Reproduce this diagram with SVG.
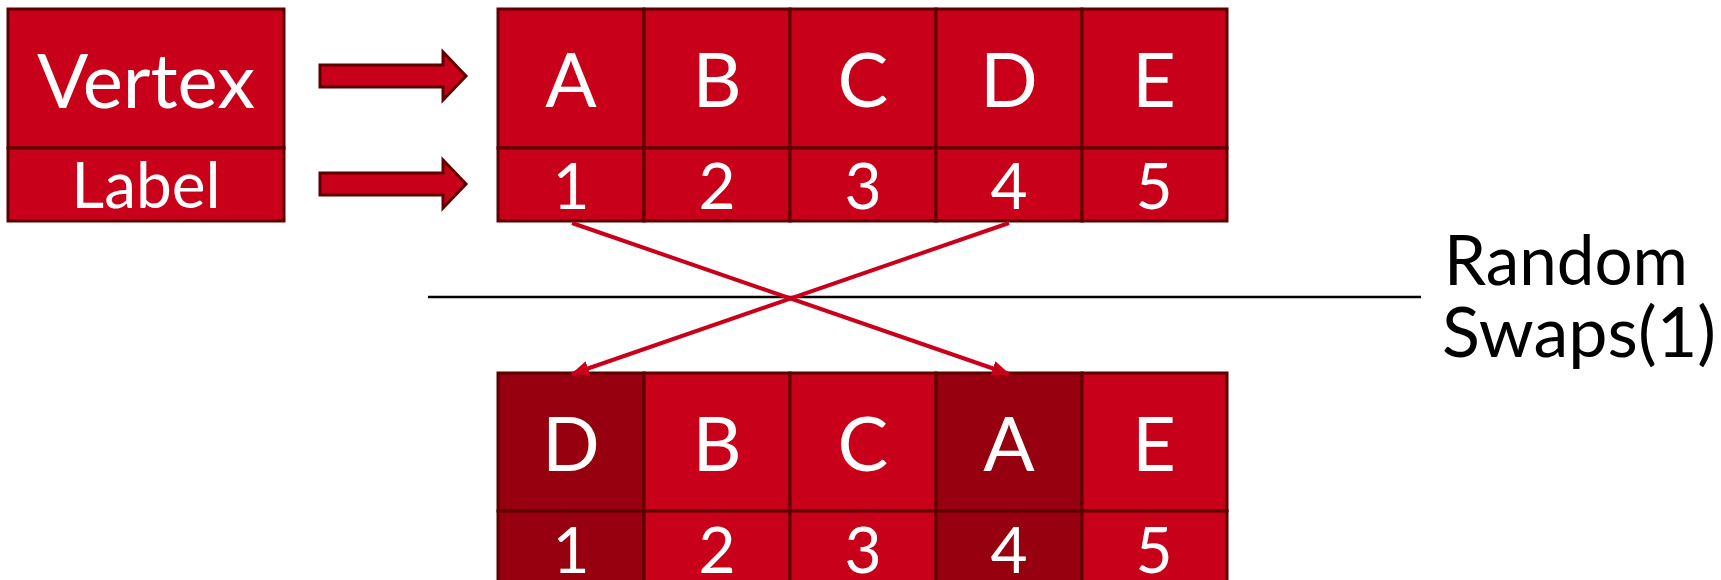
<svg xmlns="http://www.w3.org/2000/svg" width="1721" height="580" viewBox="0 0 1721 580">
<style>
.cell{fill:#C90019;stroke:#5E0000;stroke-width:3}
.dark{fill:#96000F}
.blk{fill:#C90019;stroke:#5E0000;stroke-width:3;stroke-linejoin:miter}
.big{font-family:Lato,"Liberation Sans",sans-serif;font-size:76px;fill:#fff;text-anchor:middle}
.sm{font-family:Lato,"Liberation Sans",sans-serif;font-size:64px;fill:#fff;text-anchor:middle}
.lbl{font-family:Lato,"Liberation Sans",sans-serif;font-size:70px;fill:#000}
.conn{stroke:#C90019;stroke-width:4;fill:none;marker-end:url(#ah)}
</style>
<defs>
<marker id="ah" markerWidth="18" markerHeight="15" refX="17" refY="7.5" orient="auto" markerUnits="userSpaceOnUse" viewBox="0 0 18 15">
<path d="M0,0 L18,7.5 L0,15 Z" fill="#C90019"/>
</marker>
</defs>
<rect width="1721" height="580" fill="#fff"/>
<g id="legend">
<rect class="cell" x="8" y="9" width="276" height="139"/>
<rect class="cell" x="8" y="148" width="276" height="73"/>
<text class="big" x="146" y="108">Vertex</text>
<text class="sm" x="146" y="208">Label</text>
</g>
<g id="arrow-vertex"><polygon class="blk" points="320,65 443,65 443,52 466,76 443,100 443,87 320,87"/></g>
<g id="arrow-label"><polygon class="blk" points="320,173 443,173 443,160 466,184 443,208 443,195 320,195"/></g>
<g id="top-grid">
<g id="top-1"><rect class="cell" x="498" y="9" width="146" height="139"/><rect class="cell" x="498" y="148" width="146" height="73"/><text class="big" x="571" y="107">A</text><text class="sm" x="571" y="209">1</text></g>
<g id="top-2"><rect class="cell" x="644" y="9" width="146" height="139"/><rect class="cell" x="644" y="148" width="146" height="73"/><text class="big" x="717" y="107">B</text><text class="sm" x="717" y="209">2</text></g>
<g id="top-3"><rect class="cell" x="790" y="9" width="146" height="139"/><rect class="cell" x="790" y="148" width="146" height="73"/><text class="big" x="863" y="107">C</text><text class="sm" x="863" y="209">3</text></g>
<g id="top-4"><rect class="cell" x="936" y="9" width="146" height="139"/><rect class="cell" x="936" y="148" width="146" height="73"/><text class="big" x="1009" y="107">D</text><text class="sm" x="1009" y="209">4</text></g>
<g id="top-5"><rect class="cell" x="1082" y="9" width="145" height="139"/><rect class="cell" x="1082" y="148" width="145" height="73"/><text class="big" x="1154" y="107">E</text><text class="sm" x="1154" y="209">5</text></g>
</g>
<g id="bottom-grid">
<g id="bot-1"><rect class="cell dark" x="498" y="373" width="146" height="138"/><rect class="cell dark" x="498" y="511" width="146" height="80"/><text class="big" x="571" y="471">D</text><text class="sm" x="571" y="573">1</text></g>
<g id="bot-2"><rect class="cell" x="644" y="373" width="146" height="138"/><rect class="cell" x="644" y="511" width="146" height="80"/><text class="big" x="717" y="471">B</text><text class="sm" x="717" y="573">2</text></g>
<g id="bot-3"><rect class="cell" x="790" y="373" width="146" height="138"/><rect class="cell" x="790" y="511" width="146" height="80"/><text class="big" x="863" y="471">C</text><text class="sm" x="863" y="573">3</text></g>
<g id="bot-4"><rect class="cell dark" x="936" y="373" width="146" height="138"/><rect class="cell dark" x="936" y="511" width="146" height="80"/><text class="big" x="1009" y="471">A</text><text class="sm" x="1009" y="573">4</text></g>
<g id="bot-5"><rect class="cell" x="1082" y="373" width="145" height="138"/><rect class="cell" x="1082" y="511" width="145" height="80"/><text class="big" x="1154" y="471">E</text><text class="sm" x="1154" y="573">5</text></g>
</g>
<g id="divider"><line x1="428" y1="297" x2="1421" y2="297" stroke="#000" stroke-width="2.5"/></g>
<g id="connectors">
<line class="conn" x1="572" y1="223" x2="1009" y2="374"/>
<line class="conn" x1="1009" y1="223" x2="572" y2="374"/>
</g>
<g id="swap-label">
<text class="lbl" x="1444" y="285" textLength="244" lengthAdjust="spacingAndGlyphs">Random</text>
<text class="lbl" x="1442" y="357" textLength="274" lengthAdjust="spacingAndGlyphs">Swaps(1)</text>
</g>
</svg>
